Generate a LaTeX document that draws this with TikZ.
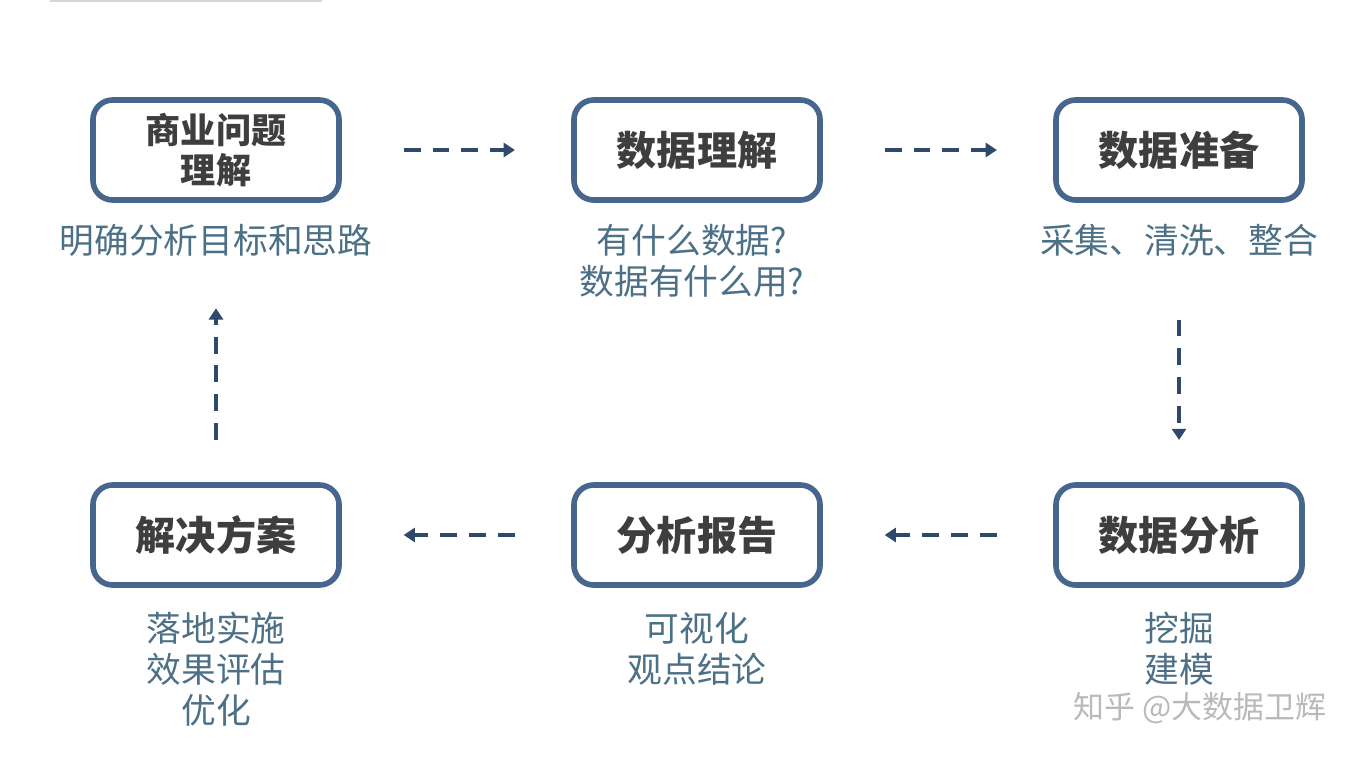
\documentclass[tikz,border=0pt]{standalone}
\usepackage{fontspec}
\usepackage{xcolor}
\usetikzlibrary{arrows.meta,positioning}
\newfontfamily\cjk{Noto Sans CJK SC}
\definecolor{boxblue}{RGB}{70, 102, 142}
\definecolor{titlegray}{RGB}{62, 62, 62}
\definecolor{notecyan}{RGB}{76, 112, 134}
\definecolor{arrowslate}{RGB}{48, 72, 106}
\definecolor{markgray}{RGB}{185, 185, 185}

\begin{document}
\begin{tikzpicture}[
    x=0.025cm, y=-0.025cm,
    % boxes and captions
    stage/.style={rectangle, draw=boxblue, line width=4pt, fill=white, rounded corners=14pt, minimum width=6.15cm, minimum height=2.5cm, align=center, text=titlegray, font=\cjk\bfseries\fontsize{28.5pt}{30pt}\selectfont},
    smallstage/.style={stage, font=\cjk\bfseries\fontsize{25pt}{28.5pt}\selectfont},
    note/.style={align=center, text=notecyan, font=\cjk\fontsize{24.7pt}{29.2pt}\selectfont},
    arrow/.style={-{Triangle[length=8pt,width=10pt]}, line width=3pt, color=arrowslate, dash pattern=on 12pt off 8.5pt}
]
\useasboundingbox (0,0) rectangle (1360,765);
\fill [markgray!60] (50,0) rectangle (322,2);

% Row 1: top boxes
\node [smallstage] (business) at (216,150) {商业问题\\理解};
\node [stage] (understand) at (697,150) {数据理解};
\node [stage] (prepare) at (1179,150) {数据准备};

% Row 2: bottom boxes
\node [stage] (solution) at (216,535) {解决方案};
\node [stage] (report) at (697,535) {分析报告};
\node [stage] (analysis) at (1179,535) {数据分析};

% Captions
\node [note] (businessnote) at (216,240) {明确分析目标和思路};
\node [note] (understandnote) at (692,261) {有什么数据?\\数据有什么用?};
\node [note] (preparenote) at (1179,240) {采集、清洗、整合};
\node [note] (solutionnote) at (216,669) {落地实施\\效果评估\\优化};
\node [note] (reportnote) at (697,649) {可视化\\观点结论};
\node [note] (analysisnote) at (1179,649) {挖掘\\建模};

% Dashed flow
\draw [arrow, shorten <=44pt, shorten >=40pt] (business) -- (understand);
\draw [arrow, shorten <=44pt, shorten >=40pt] (understand) -- (prepare);
\draw [arrow, shorten <=83pt, shorten >=30pt] (prepare) -- (analysis);
\draw [arrow, shorten <=40pt, shorten >=44pt] (analysis) -- (report);
\draw [arrow, shorten <=40pt, shorten >=44pt] (report) -- (solution);
\draw [arrow, shorten <=30pt, shorten >=75pt] (solution) -- (business);

% Watermark
\node [text=markgray, font=\cjk\fontsize{22pt}{26pt}\selectfont] (mark) at (1200,708) {知乎 @大数据卫辉};

\end{tikzpicture}
\end{document}
